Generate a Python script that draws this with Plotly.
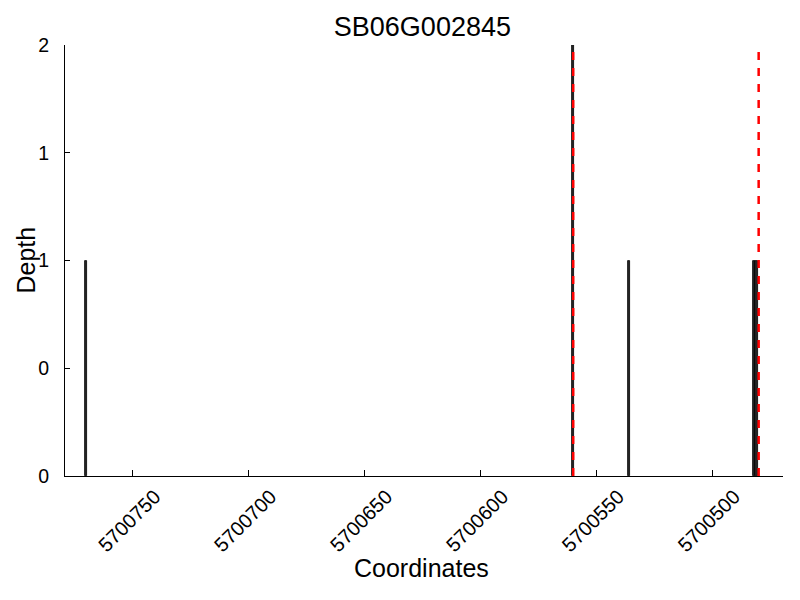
import plotly.graph_objects as go

# ---- data ----
chart_title = "SB06G002845"
x_label = "Coordinates"
y_label = "Depth"
bar_positions = [5700770, 5700560, 5700536, 5700482, 5700481]   # bar centres (bp)
depths = [1, 2, 1, 1, 1]
boundaries = [5700560, 5700480]                                  # red dashed lines
x_tickvals = [5700750, 5700700, 5700650, 5700600, 5700550, 5700500]
x_ticktext = ["5700750", "5700700", "5700650", "5700600", "5700550", "5700500"]
y_tickvals = [0, 0.5, 1, 1.5, 2]
y_ticktext = ["0", "0", "1", "1", "2"]

FONT = "Liberation Sans, Arial, Helvetica, sans-serif"

fig = go.Figure()

fig.add_trace(go.Bar(
    x=bar_positions,
    y=depths,
    width=1,
    marker=dict(color="#262626", line=dict(color="black", width=0.8)),
    showlegend=False,
    hoverinfo="x+y",
))

for b in boundaries:
    fig.add_trace(go.Scatter(
        x=[b, b], y=[0, 2], mode="lines",
        line=dict(color="red", width=2.5, dash="8px,8px"),
        showlegend=False, hoverinfo="skip",
    ))

# the page places the figure 8px in from the top-left corner
fig.update_layout(
    width=800, height=600,
    margin=dict(l=57, r=25, t=37, b=132, autoexpand=False),
    paper_bgcolor="white", plot_bgcolor="white",
    font=dict(family=FONT, color="black"),
    title=dict(text=chart_title, x=0.518, xanchor="center",
               y=1 - 18.5 / 600, yanchor="middle", yref="container",
               font=dict(size=27, family=FONT, color="black")),
    bargap=0,
)

fig.add_annotation(
    text=x_label, xref="paper", yref="paper", x=0.497, y=-0.2135,
    xanchor="center", yanchor="middle", showarrow=False,
    font=dict(size=25, family=FONT, color="black"),
)
fig.add_annotation(
    text=y_label, xref="paper", yref="paper", x=-0.0557, y=0.5,
    xanchor="center", yanchor="middle", textangle=-90, showarrow=False,
    font=dict(size=25, family=FONT, color="black"),
)

fig.update_xaxes(
    range=[5700779.2, 5700469.5],
    tickvals=x_tickvals, ticktext=x_ticktext,
    tickangle=-45, ticks="inside", ticklen=6, tickwidth=1, tickcolor="black",
    ticklabelshift=-22, ticklabelstandoff=0,
    tickfont=dict(size=20, family=FONT, color="black"),
    showline=True, linecolor="black", linewidth=1.2, mirror=False,
    showgrid=False, zeroline=False, automargin=False,
)

fig.update_yaxes(
    range=[0, 2],
    tickvals=y_tickvals, ticktext=y_ticktext,
    ticks="inside", ticklen=5, tickwidth=1, tickcolor="black",
    ticklabelstandoff=11,
    tickfont=dict(size=19.5, family=FONT, color="black"),
    showline=True, linecolor="black", linewidth=1.2, mirror=False,
    showgrid=False, zeroline=False, automargin=False,
)

fig.write_html("out.html")
